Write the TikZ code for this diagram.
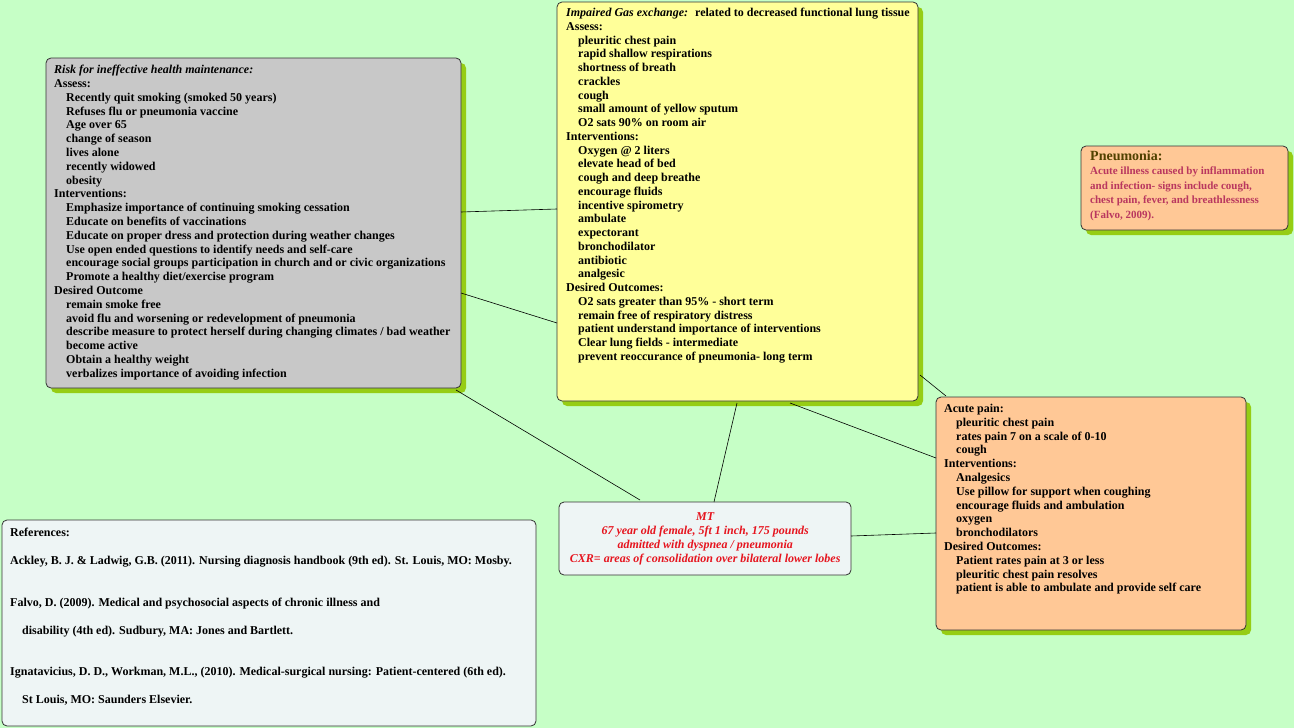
\documentclass[tikz,border=0pt]{standalone}
\usepackage{fontspec}
\setmainfont{Liberation Serif}
\usetikzlibrary{positioning}
\definecolor{bgmint}{RGB}{198,255,198}
\definecolor{shadowgreen}{RGB}{150,205,20}
\definecolor{boxgray}{RGB}{200,200,200}
\definecolor{boxyellow}{RGB}{255,255,153}
\definecolor{boxpeach}{RGB}{255,200,150}
\definecolor{boxpale}{RGB}{238,245,245}
\definecolor{pnred}{RGB}{185,55,95}
\definecolor{pntitle}{RGB}{80,65,0}
\definecolor{mtred}{RGB}{230,20,30}
\newcommand{\ind}{\hspace*{12pt}}

\begin{document}
\begin{tikzpicture}[x=1pt,y=-1pt,
    box/.style={draw=black!80, rounded corners=5pt, line width=0.8pt, inner sep=0pt},
    txt/.style={anchor=north west, align=left, inner sep=0pt,
        font=\fontsize{12}{13.8}\selectfont\bfseries},
    link/.style={draw=black, line width=0.6pt}]
    \fill[bgmint] (0,0) rectangle (1294,728);
    \useasboundingbox (0,0) rectangle (1294,728);

    % shadows
    \foreach \a/\b/\c/\d in {46/58/461/388, 557/2/918/401, 1081/146/1288/230, 936/397/1246/630}
        \fill[shadowgreen, rounded corners=5pt] (\a+5,\b+5) rectangle (\c+5,\d+5);

    % boxes
    \draw[box, fill=boxgray] (46,58) rectangle (461,388);
    \node[minimum width=415pt, minimum height=330pt, anchor=north west] (health) at (46,58) {};
    \draw[box, fill=boxyellow] (557,2) rectangle (918,401);
    \node[minimum width=361pt, minimum height=399pt, anchor=north west] (gas) at (557,2) {};
    \draw[box, fill=boxpeach] (1081,146) rectangle (1288,230);
    \node[minimum width=207pt, minimum height=84pt, anchor=north west] (pneu) at (1081,146) {};
    \draw[box, fill=boxpeach] (936,397) rectangle (1246,630);
    \node[minimum width=310pt, minimum height=233pt, anchor=north west] (pain) at (936,397) {};
    \draw[box, fill=boxpale] (559,502) rectangle (851,575);
    \node[minimum width=292pt, minimum height=73pt, anchor=north west] (mt) at (559,502) {};
    \draw[box, fill=boxpale] (2,520) rectangle (536,726);
    \node[minimum width=534pt, minimum height=206pt, anchor=north west] (refs) at (2,520) {};

    % connectors
    \coordinate (h1) at (461,212); \coordinate (g1) at (557,209);
    \coordinate (h2) at (461,293); \coordinate (g2) at (557,323);
    \coordinate (h3) at (456,390); \coordinate (m1) at (640,500);
    \coordinate (g3) at (737,403); \coordinate (m2) at (714,502);
    \coordinate (g4) at (790,403); \coordinate (p1) at (936,458);
    \coordinate (g5) at (920,375); \coordinate (p2) at (946,396);
    \coordinate (m3) at (851,536); \coordinate (p3) at (936,533);
    \draw[link] (h1) -- (g1);
    \draw[link] (h2) -- (g2);
    \draw[link] (h3) -- (m1);
    \draw[link] (g3) -- (m2);
    \draw[link] (g4) -- (p1);
    \draw[link] (g5) -- (p2);
    \draw[link] (m3) -- (p3);

    % texts
    \node[txt] at (54,65) {\textit{Risk for ineffective health maintenance:}\\
        Assess:\\
        \ind Recently quit smoking (smoked 50 years)\\
        \ind Refuses flu or pneumonia vaccine\\
        \ind Age over 65\\
        \ind change of season\\
        \ind lives alone\\
        \ind recently widowed\\
        \ind obesity\\
        Interventions:\\
        \ind Emphasize importance of continuing smoking cessation\\
        \ind Educate on benefits of vaccinations\\
        \ind Educate on proper dress and protection during weather changes\\
        \ind Use open ended questions to identify needs and self-care\\
        \ind encourage social groups participation in church and or civic organizations\\
        \ind Promote a healthy diet/exercise program\\
        Desired Outcome\\
        \ind remain smoke free\\
        \ind avoid flu and worsening or redevelopment of pneumonia\\
        \ind describe measure to protect herself during changing climates / bad weather\\
        \ind become active\\
        \ind Obtain a healthy weight\\
        \ind verbalizes importance of avoiding infection};
    \node[txt, font=\fontsize{12}{13.75}\selectfont\bfseries] at (566,8) {\textit{Impaired Gas exchange:}~ related to decreased functional lung tissue\\
        Assess:\\
        \ind pleuritic chest pain\\
        \ind rapid shallow respirations\\
        \ind shortness of breath\\
        \ind crackles\\
        \ind cough\\
        \ind small amount of yellow sputum\\
        \ind O2 sats 90\% on room air\\
        Interventions:\\
        \ind Oxygen @ 2 liters\\
        \ind elevate head of bed\\
        \ind cough and deep breathe\\
        \ind encourage fluids\\
        \ind incentive spirometry\\
        \ind ambulate\\
        \ind expectorant\\
        \ind bronchodilator\\
        \ind antibiotic\\
        \ind analgesic\\
        Desired Outcomes:\\
        \ind O2 sats greater than 95\% - short term\\
        \ind remain free of respiratory distress\\
        \ind patient understand importance of interventions\\
        \ind Clear lung fields - intermediate\\
        \ind prevent reoccurance of pneumonia- long term};
    \node[txt, text=pntitle, font=\fontsize{14}{16}\selectfont\bfseries] at (1090,151) {Pneumonia:};
    \node[txt, text=pnred, font=\fontsize{11}{14.5}\selectfont\bfseries] at (1090,167) {Acute illness caused by inflammation\\
        and infection- signs include cough,\\
        chest pain, fever, and breathlessness\\
        (Falvo, 2009).};
    \node[txt] at (944,404) {Acute pain:\\
        \ind pleuritic chest pain\\
        \ind rates pain 7 on a scale of 0-10\\
        \ind cough\\
        Interventions:\\
        \ind Analgesics\\
        \ind Use pillow for support when coughing\\
        \ind encourage fluids and ambulation\\
        \ind oxygen\\
        \ind bronchodilators\\
        Desired Outcomes:\\
        \ind Patient rates pain at 3 or less\\
        \ind pleuritic chest pain resolves\\
        \ind patient is able to ambulate and provide self care};
    \node[align=center, inner sep=0pt, text=mtred, font=\fontsize{12}{13.8}\selectfont\bfseries\itshape] at (mt.center) {MT\\
        67 year old female, 5ft 1 inch, 175 pounds\\
        admitted with dyspnea / pneumonia\\
        CXR= areas of consolidation over bilateral lower lobes};
    \node[txt] at (10,528) {References:};
    \node[txt] at (10,556) {Ackley, B. J. \& Ladwig, G.B. (2011). Nursing diagnosis handbook (9th ed). St. Louis, MO: Mosby.};
    \node[txt] at (10,598) {Falvo, D. (2009). Medical and psychosocial aspects of chronic illness and};
    \node[txt] at (10,626) {\ind disability (4th ed). Sudbury, MA: Jones and Bartlett.};
    \node[txt] at (10,667) {Ignatavicius, D. D., Workman, M.L., (2010). Medical-surgical nursing: Patient-centered (6th ed).};
    \node[txt] at (10,695) {\ind St Louis, MO: Saunders Elsevier.};
\end{tikzpicture}
\end{document}
